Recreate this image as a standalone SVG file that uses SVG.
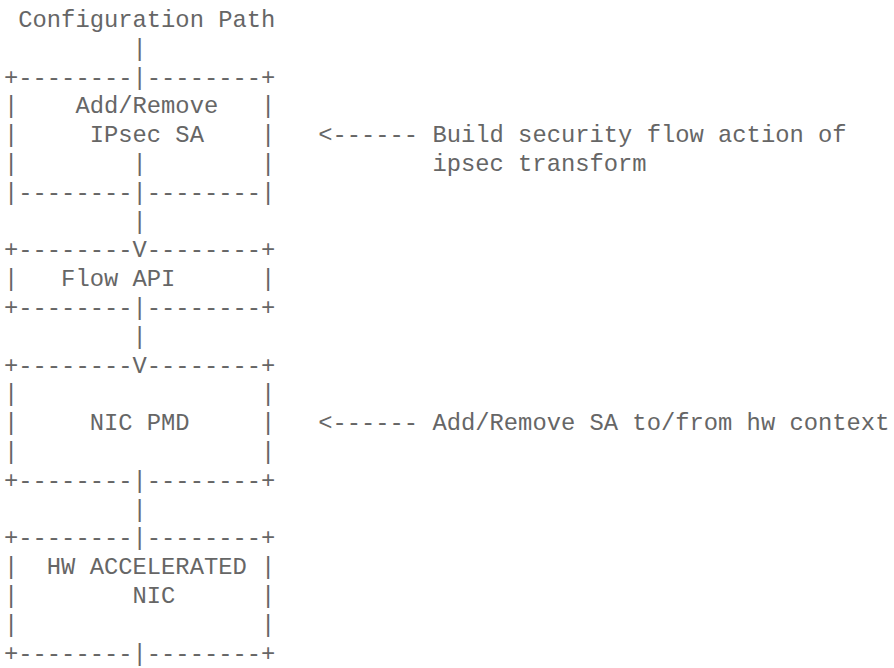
<svg xmlns="http://www.w3.org/2000/svg" width="894" height="668" viewBox="0 0 894 668">
<style>
text{font-family:"Liberation Mono","DejaVu Sans Mono",monospace;font-size:23.8px;fill:#666;white-space:pre}
</style>
<rect width="894" height="668" fill="#fff"/>
<g id="title"><text x="4" y="27" xml:space="preserve"> Configuration Path</text></g>
<g id="connectors">
<text x="4" y="55.8" xml:space="preserve">         |</text>
<text x="4" y="228.6" xml:space="preserve">         |</text>
<text x="4" y="343.8" xml:space="preserve">         |</text>
<text x="4" y="516.6" xml:space="preserve">         |</text>
<text x="318.2" y="142.2" xml:space="preserve">&lt;------ Build security flow action of</text>
<text x="432.4" y="171" xml:space="preserve">ipsec transform</text>
<text x="318.2" y="430.2" xml:space="preserve">&lt;------ Add/Remove SA to/from hw context</text>
</g>
<g id="ipsec-sa">
<text x="4" y="84.6" xml:space="preserve">+--------|--------+</text>
<text x="4" y="113.4" xml:space="preserve">|    Add/Remove   |</text>
<text x="4" y="142.2" xml:space="preserve">|     IPsec SA    |</text>
<text x="4" y="171" xml:space="preserve">|        |        |</text>
<text x="4" y="199.8" xml:space="preserve">|--------|--------|</text>
</g>
<g id="flow-api">
<text x="4" y="257.4" xml:space="preserve">+--------V--------+</text>
<text x="4" y="286.2" xml:space="preserve">|   Flow API      |</text>
<text x="4" y="315" xml:space="preserve">+--------|--------+</text>
</g>
<g id="nic-pmd">
<text x="4" y="372.6" xml:space="preserve">+--------V--------+</text>
<text x="4" y="401.4" xml:space="preserve">|                 |</text>
<text x="4" y="430.2" xml:space="preserve">|     NIC PMD     |</text>
<text x="4" y="459" xml:space="preserve">|                 |</text>
<text x="4" y="487.8" xml:space="preserve">+--------|--------+</text>
</g>
<g id="hw-nic">
<text x="4" y="545.4" xml:space="preserve">+--------|--------+</text>
<text x="4" y="574.2" xml:space="preserve">|  HW ACCELERATED |</text>
<text x="4" y="603" xml:space="preserve">|        NIC      |</text>
<text x="4" y="631.8" xml:space="preserve">|                 |</text>
<text x="4" y="660.6" xml:space="preserve">+--------|--------+</text>
</g>
</svg>
